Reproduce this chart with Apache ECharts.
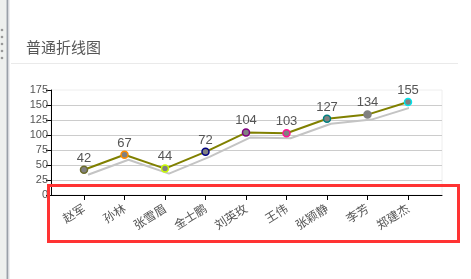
<!DOCTYPE html>
<html>
<head>
<meta charset="utf-8">
<script src="https://cdn.jsdelivr.net/npm/echarts@6/dist/echarts.min.js"></script>
<style>
  html, body { margin: 0; padding: 0; background: #fff; }
  #main { width: 471px; height: 279px; }
</style>
</head>
<body>
<div id="main"></div>
<script>
// 员工 / 数值
var names = ['赵军', '孙林', '张雪眉', '金士鹏', '刘英玫', '王伟', '张颖静', '李芳', '郑建杰'];
var values = [42, 67, 44, 72, 104, 103, 127, 134, 155];
var yTicks = [0, 25, 50, 75, 100, 125, 150, 175];

// 每个点的边框颜色
var pointBorders = ['#6b6b2a', '#ff8c00', '#ccff00', '#000080', '#800080', '#ff1493', '#008080', '#808080', '#00e5ee'];

var chart = echarts.init(document.getElementById('main'), null, { renderer: 'canvas' });

var seriesData = values.map(function (v, i) {
  return {
    value: v,
    itemStyle: { color: '#808080', borderColor: pointBorders[i], borderWidth: 1.5 }
  };
});

var option = {
  animation: false,
  backgroundColor: '#fff',
  title: {
    text: '普通折线图',
    left: 21,
    top: 35,
    textStyle: { fontSize: 15, fontWeight: 'normal', color: '#555', fontFamily: 'Noto Sans CJK SC' }
  },
  graphic: [
    { type: 'rect', shape: { x: 0, y: 0, width: 6, height: 279 }, style: { fill: '#eef0ee' } },
    { type: 'rect', shape: { x: 6, y: 0, width: 1, height: 279 }, style: { fill: '#c8ccd0' } },
    { type: 'rect', shape: { x: 7, y: 0, width: 1.5, height: 279 }, style: { fill: '#9aa0a8' } },
    { type: 'rect', shape: { x: 8.5, y: 0, width: 1, height: 279 }, style: { fill: '#dde0e3' } },
    { type: 'circle', shape: { cx: 2, cy: 30, r: 1.3 }, style: { fill: '#999' } },
    { type: 'circle', shape: { cx: 2, cy: 37, r: 1.3 }, style: { fill: '#999' } },
    { type: 'circle', shape: { cx: 2, cy: 44, r: 1.3 }, style: { fill: '#999' } },
    { type: 'circle', shape: { cx: 2, cy: 51, r: 1.3 }, style: { fill: '#999' } },
    { type: 'circle', shape: { cx: 2, cy: 58, r: 1.3 }, style: { fill: '#999' } },
    { type: 'line', shape: { x1: 11, y1: 63.5, x2: 458, y2: 63.5 }, style: { stroke: '#eaeaea', lineWidth: 1 } },
    { type: 'rect', z: 100, shape: { x: 48.5, y: 185.5, width: 410, height: 56 }, style: { fill: 'none', stroke: '#ff3333', lineWidth: 3 } }
  ],
  grid: [
    { left: 51, right: 29, top: 90, bottom: 84, show: true, borderColor: '#eeeeee', borderWidth: 1 },
    { left: 84, right: 63, top: 90, bottom: 84 }
  ],
  xAxis: [
    {
      gridIndex: 0,
      type: 'value',
      min: 0,
      max: 1,
      axisLine: { show: true, onZero: false, lineStyle: { color: '#000', width: 1 } },
      axisTick: { show: false },
      axisLabel: { show: false },
      splitLine: { show: false }
    },
    {
      gridIndex: 1,
      type: 'category',
      boundaryGap: false,
      data: names,
      axisLine: { show: false },
      axisTick: { show: true, length: 5, lineStyle: { color: '#000' } },
      axisLabel: {
        rotate: 32,
        margin: 12,
        color: '#555',
        fontSize: 12,
        fontFamily: 'Noto Sans CJK SC',
        interval: 0
      },
      splitLine: { show: false }
    }
  ],
  yAxis: [
    {
      gridIndex: 0,
      type: 'value',
      min: yTicks[0],
      max: yTicks[yTicks.length - 1],
      interval: 25,
      axisLine: { show: true, onZero: false, lineStyle: { color: '#000' } },
      axisTick: { show: true, length: 5, lineStyle: { color: '#000' } },
      axisLabel: { color: '#555', fontSize: 11, margin: 3, fontFamily: 'Liberation Sans' },
      splitLine: { show: true, showMaxLine: false, lineStyle: { color: '#cccccc', width: 1 } }
    },
    {
      gridIndex: 1,
      type: 'value',
      min: yTicks[0],
      max: yTicks[yTicks.length - 1],
      show: false
    }
  ],
  series: [
    {
      type: 'line',
      xAxisIndex: 1,
      yAxisIndex: 1,
      data: seriesData,
      symbol: 'circle',
      symbolSize: 7,
      lineStyle: {
        color: '#808000',
        width: 2,
        shadowColor: '#c4c4c4',
        shadowBlur: 0,
        shadowOffsetX: 4,
        shadowOffsetY: 5
      },
      label: {
        show: true,
        position: 'top',
        distance: 1,
        color: '#555',
        fontSize: 13,
        fontFamily: 'Liberation Sans'
      }
    }
  ]
};

chart.setOption(option);
</script>
</body>
</html>
